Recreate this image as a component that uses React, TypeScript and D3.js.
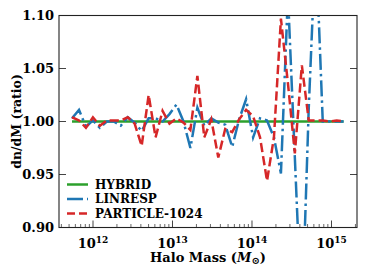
import React from "react";
import * as d3 from "d3";

const logMass = [
  11.736, 11.824, 11.911, 11.999, 12.086, 12.174, 12.262, 12.349, 12.437, 12.524,
  12.612, 12.7, 12.787, 12.875, 12.962, 13.05, 13.138, 13.225, 13.313, 13.4,
  13.488, 13.576, 13.663, 13.751, 13.838, 13.926, 14.014, 14.101, 14.189, 14.276,
  14.364, 14.452, 14.539, 14.627, 14.714, 14.802, 14.89, 14.977, 15.065, 15.152,
];

const hybrid = [
  1.0, 1.0, 1.0, 1.0, 1.0, 1.0, 1.0, 1.0, 1.0, 1.0,
  1.0, 1.0, 1.0, 1.0, 1.0, 1.0, 1.0, 1.0, 1.0, 1.0,
  1.0, 1.0, 1.0, 1.0, 1.0, 1.0, 1.0, 1.0, 1.0, 1.0,
  1.0, 1.0, 1.0, 1.0, 1.0, 1.0, 1.0, 1.0, 1.0, 1.0,
];

const linresp = [
  1.003, 1.011, 0.995, 1.001, 0.994, 1.0, 1.0, 0.996, 1.004, 0.999,
  0.991, 1.003, 1.003, 1.0, 1.007, 1.016, 1.0, 0.975, 1.013, 0.996,
  1.003, 0.999, 0.997, 0.976, 1.002, 1.021, 0.985, 1.003, 1.001, 0.985,
  0.951, 1.12, 0.966, 0.81, 1.013, 1.17, 1.0, 1.0, 1.0, 1.0,
];

const particle = [
  1.004, 1.001, 0.994, 1.004, 0.996, 1.001, 1.001, 1.001, 1.004, 0.998,
  0.977, 1.025, 0.985, 1.01, 0.998, 1.003, 0.999, 0.992, 1.043, 0.985,
  1.002, 0.966, 0.993, 0.99, 1.002, 1.011, 1.005, 0.985, 0.944, 0.985,
  1.097, 1.036, 0.97, 1.053, 1.001, 1.001, 1.001, 1.0, 1.001, 1.0,
];

const yTicks = [0.9, 0.95, 1.0, 1.05, 1.1];
const xMajorExp = [12, 13, 14, 15];
const seriesNames = ["HYBRID", "LINRESP", "PARTICLE-1024"];

const W = 374;
const H = 280;
const L = 59;
const R = 357;
const T = 15.5;
const B = 227.5;

const FONT = "'DejaVu Serif', serif";

export default function App() {
  const x = d3
    .scaleLog()
    .domain([Math.pow(10, 11.5723), Math.pow(10, 15.3208)])
    .range([L, R]);
  const y = d3.scaleLinear().domain([0.9, 1.1]).range([B, T]);

  const mk = (vals: number[]) =>
    d3
      .line<number>()
      .x((_, i) => x(Math.pow(10, logMass[i])))
      .y((v) => y(v))(vals) || "";

  const minor: number[] = [];
  for (let e = 11; e <= 15; e++) {
    for (let m = 2; m <= 9; m++) {
      const v = m * Math.pow(10, e);
      const [d0, d1] = x.domain();
      if (v > d0 && v < d1) minor.push(v);
    }
  }

  const series = [
    { name: seriesNames[0], vals: hybrid, color: "#2ca02c", dash: "" },
    { name: seriesNames[1], vals: linresp, color: "#1f77b4", dash: "16,4,2.5,4" },
    { name: seriesNames[2], vals: particle, color: "#d62728", dash: "9.25,4" },
  ];

  return (
    <svg
      width={W}
      height={H}
      style={{ position: "absolute", left: 0, top: 0, background: "#fff" }}
      fontFamily={FONT}
    >
      <defs>
        <clipPath id="plotclip">
          <rect x={L} y={T} width={R - L} height={B - T} />
        </clipPath>
      </defs>
      <rect x={0} y={0} width={W} height={H} fill="#fff" />
      <g clipPath="url(#plotclip)">
        {series.map((s) => (
          <path
            key={s.name}
            d={mk(s.vals)}
            fill="none"
            stroke={s.color}
            strokeWidth={2.5}
            strokeDasharray={s.dash || undefined}
          />
        ))}
      </g>
      {yTicks.map((t) => (
        <g key={t}>
          <line x1={L} x2={L + 7} y1={y(t)} y2={y(t)} stroke="#444" strokeWidth={1} />
          <line x1={R} x2={R - 7} y1={y(t)} y2={y(t)} stroke="#444" strokeWidth={1} />
          <text
            x={L - 5}
            y={y(t)}
            textAnchor="end"
            dominantBaseline="central"
            fontSize={13}
            fontWeight="bold"
          >
            {d3.format(".2f")(t)}
          </text>
        </g>
      ))}
      {minor.map((v) => (
        <line key={v} x1={x(v)} x2={x(v)} y1={B} y2={B - 3.5} stroke="#444" strokeWidth={0.8} />
      ))}
      {xMajorExp.map((e) => {
        const px = x(Math.pow(10, e));
        return (
          <g key={e}>
            <line x1={px} x2={px} y1={B} y2={B - 7} stroke="#444" strokeWidth={1} />
            <text x={px} y={248} textAnchor="middle" fontSize={13} fontWeight="bold">
              10
              <tspan dy={-5.5} fontSize={9}>
                {e}
              </tspan>
            </text>
          </g>
        );
      })}
      <rect x={L} y={T} width={R - L} height={B - T} fill="none" stroke="#222" strokeWidth={1.1} />
      <text x={(L + R) / 2} y={262} textAnchor="middle" fontSize={13} fontWeight="bold">
        Halo Mass (<tspan fontStyle="italic">M</tspan>
        <tspan dy={2} fontSize={10}>⊙</tspan>
        <tspan dy={-2}>)</tspan>
      </text>
      <text
        transform={`translate(21,${(T + B) / 2}) rotate(-90)`}
        textAnchor="middle"
        fontSize={12.5}
        fontWeight="bold"
      >
        dn/dM (ratio)
      </text>
      {series.map((s, i) => {
        const ly = 184.5 + i * 14.5;
        return (
          <g key={s.name}>
            <line
              x1={67}
              x2={88}
              y1={ly}
              y2={ly}
              stroke={s.color}
              strokeWidth={2.5}
              strokeDasharray={s.dash ? (i === 2 ? "8,4" : "16,4") : undefined}
            />
            <text x={95} y={ly} dominantBaseline="central" fontSize={12} fontWeight="bold">
              {s.name}
            </text>
          </g>
        );
      })}
    </svg>
  );
}
